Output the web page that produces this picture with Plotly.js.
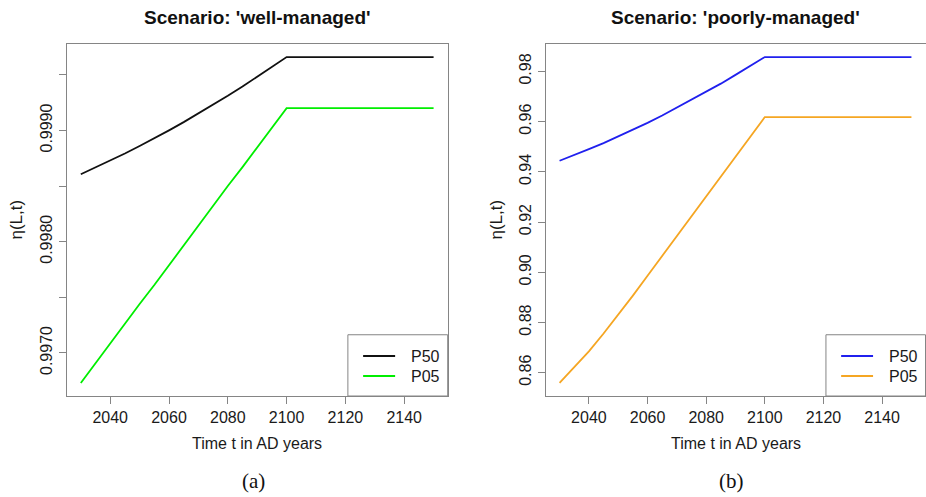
<!DOCTYPE html>
<html>
<head>
<meta charset="utf-8">
<script src="https://cdn.plot.ly/plotly-3.0.1.min.js"></script>
<style>
  html, body { margin: 0; padding: 0; background: #ffffff; }
  #chart { width: 926px; height: 497px; }
</style>
</head>
<body>
<div id="chart"></div>
<script>
// Years at which eta(L,t) is evaluated
const years = [2030, 2035, 2040, 2045, 2050, 2055, 2060, 2065, 2070, 2075, 2080, 2085, 2090, 2095, 2100,
               2105, 2110, 2115, 2120, 2125, 2130, 2135, 2140, 2145, 2150];

// Scenario (a): well-managed
const wellP50 = [0.998606, 0.998666, 0.998728, 0.998793, 0.998860, 0.998929, 0.999001, 0.999075,
                 0.999152, 0.999231, 0.999312, 0.999395, 0.999481, 0.999569, 0.99966,
                 0.99966, 0.99966, 0.99966, 0.99966, 0.99966, 0.99966, 0.99966, 0.99966, 0.99966, 0.99966];
const wellP05 = [0.99673, 0.99691, 0.99708, 0.99726, 0.99744, 0.99761, 0.99779, 0.99797,
                 0.99814, 0.99832, 0.99850, 0.99867, 0.99885, 0.99903, 0.99920,
                 0.99920, 0.99920, 0.99920, 0.99920, 0.99920, 0.99920, 0.99920, 0.99920, 0.99920, 0.99920];

// Scenario (b): poorly-managed
const poorP50 = [0.9444, 0.9466, 0.9490, 0.9514, 0.9540, 0.9567, 0.9595, 0.9624,
                 0.9655, 0.9686, 0.9718, 0.9751, 0.9786, 0.9821, 0.9857,
                 0.9857, 0.9857, 0.9857, 0.9857, 0.9857, 0.9857, 0.9857, 0.9857, 0.9857, 0.9857];
const poorP05 = [0.8559, 0.8620, 0.8685, 0.8756, 0.8830, 0.8907, 0.8986, 0.9065,
                 0.9144, 0.9222, 0.9301, 0.9380, 0.9459, 0.9538, 0.9618,
                 0.9618, 0.9618, 0.9618, 0.9618, 0.9618, 0.9618, 0.9618, 0.9618, 0.9618, 0.9618];

// Axis ticks
const xTickVals = [2040, 2060, 2080, 2100, 2120, 2140];
const wellTickVals = [0.9970, 0.9975, 0.9980, 0.9985, 0.9990, 0.9995];
const wellTickText = ['0.9970', '', '0.9980', '', '0.9990', ''];
const poorTickVals = [0.86, 0.88, 0.90, 0.92, 0.94, 0.96, 0.98];
const poorTickText = ['0.86', '0.88', '0.90', '0.92', '0.94', '0.96', '0.98'];

// Text
const panelTitles = ["Scenario: 'well-managed'", "Scenario: 'poorly-managed'"];
const seriesNames = ['P50', 'P05'];
const xTitle = 'Time t in AD years';
const yTitle = 'η(L,t)';
const captions = ['(a)', '(b)'];

const W = 926, H = 497;
const colors = {
  well: ['#111111', '#00ee00'],
  poor: ['#2020ee', '#f5a623']
};

// R-style padded range (4% each side)
function pad(lo, hi) { const d = (hi - lo) * 0.04; return [lo - d, hi + d]; }
const xr = pad(Math.min(...years), Math.max(...years));
const yrWell = pad(Math.min(...wellP05, ...wellP50), Math.max(...wellP05, ...wellP50));
const yrPoor = pad(Math.min(...poorP05, ...poorP50), Math.max(...poorP05, ...poorP50));

const line = (y, c, xa, ya, name) => ({
  x: years, y: y, type: 'scatter', mode: 'lines', name: name,
  xaxis: xa, yaxis: ya, showlegend: false,
  line: { color: c, width: 1.8 }, hoverinfo: 'x+y'
});

const traces = [
  line(wellP50, colors.well[0], 'x', 'y', seriesNames[0]),
  line(wellP05, colors.well[1], 'x', 'y', seriesNames[1]),
  line(poorP50, colors.poor[0], 'x2', 'y2', seriesNames[0]),
  line(poorP05, colors.poor[1], 'x2', 'y2', seriesNames[1])
];

const font = 'Liberation Sans, Arial, sans-serif';
const boxColor = '#858585';
const tickFont = { family: font, size: 16, color: '#1a1a1a' };

const dom1 = [66.7 / W, 447.7 / W];
const dom2 = [545.5 / W, 925.5 / W];
const ydom = [(H - 396) / H, (H - 44) / H];

const xaxisBase = {
  range: xr, tickvals: xTickVals, ticks: 'outside', ticklen: 7, tickcolor: boxColor,
  showline: true, mirror: true, linecolor: boxColor, linewidth: 1,
  showgrid: false, zeroline: false, tickfont: tickFont, fixedrange: true
};
const yaxisBase = {
  ticks: 'outside', ticklen: 7, tickcolor: boxColor, tickangle: -90,
  showline: true, mirror: true, linecolor: boxColor, linewidth: 1,
  showgrid: false, zeroline: false, tickfont: tickFont, fixedrange: true
};

const annotations = [];
const shapes = [];
const panels = [
  { xa: 'x', ya: 'y', dom: dom1, cols: colors.well },
  { xa: 'x2', ya: 'y2', dom: dom2, cols: colors.poor }
];
panels.forEach((p, i) => {
  const cx = (p.dom[0] + p.dom[1]) / 2;
  annotations.push({
    text: '<b>' + panelTitles[i] + '</b>', xref: 'paper', yref: 'paper',
    x: cx, y: (H - 17) / H, showarrow: false, xanchor: 'center', yanchor: 'middle',
    font: { family: font, size: 19, color: '#111' }
  });
  annotations.push({
    text: xTitle, xref: 'paper', yref: 'paper',
    x: cx, y: (H - 443) / H, showarrow: false, xanchor: 'center', yanchor: 'middle',
    font: { family: font, size: 16, color: '#1a1a1a' }
  });
  annotations.push({
    text: captions[i], xref: 'paper', yref: 'paper',
    x: cx - 4 / W, y: (H - 481) / H, showarrow: false, xanchor: 'center', yanchor: 'middle',
    font: { family: 'Liberation Serif, DejaVu Serif, serif', size: 21, color: '#111' }
  });
  annotations.push({
    text: yTitle, xref: 'paper', yref: 'paper', textangle: -90,
    x: (i === 0 ? 15.5 : 495.5) / W, y: (H - 220) / H, showarrow: false,
    xanchor: 'center', yanchor: 'middle',
    font: { family: font, size: 17, color: '#1a1a1a' }
  });
  // legend box in the lower-right corner of the panel
  const xd = p.xa + ' domain', yd = p.ya + ' domain';
  shapes.push({
    type: 'rect', xref: xd, yref: yd, x0: 0.738, x1: 1, y0: 0, y1: 0.174,
    line: { color: boxColor, width: 1 }, fillcolor: 'rgba(255,255,255,1)'
  });
  const rowsY = [0.1136, 0.0568];
  seriesNames.forEach((nm, k) => {
    shapes.push({
      type: 'line', xref: xd, yref: yd, x0: 0.778, x1: 0.862, y0: rowsY[k], y1: rowsY[k],
      line: { color: p.cols[k], width: 1.8 }
    });
    annotations.push({
      text: nm, xref: xd, yref: yd, x: 0.898, y: rowsY[k], showarrow: false,
      xanchor: 'left', yanchor: 'middle',
      font: { family: font, size: 16, color: '#1a1a1a' }
    });
  });
});

const layout = {
  width: W, height: H,
  margin: { l: 0, r: 0, t: 0, b: 0 },
  paper_bgcolor: '#ffffff', plot_bgcolor: '#ffffff',
  showlegend: false,
  xaxis: Object.assign({}, xaxisBase, { domain: dom1, anchor: 'y' }),
  yaxis: Object.assign({}, yaxisBase, { domain: ydom, anchor: 'x', range: yrWell,
    tickvals: wellTickVals, ticktext: wellTickText }),
  xaxis2: Object.assign({}, xaxisBase, { domain: dom2, anchor: 'y2' }),
  yaxis2: Object.assign({}, yaxisBase, { domain: ydom, anchor: 'x2', range: yrPoor,
    tickvals: poorTickVals, ticktext: poorTickText }),
  annotations: annotations,
  shapes: shapes
};

Plotly.newPlot('chart', traces, layout, { displayModeBar: false, staticPlot: true });
</script>
</body>
</html>
